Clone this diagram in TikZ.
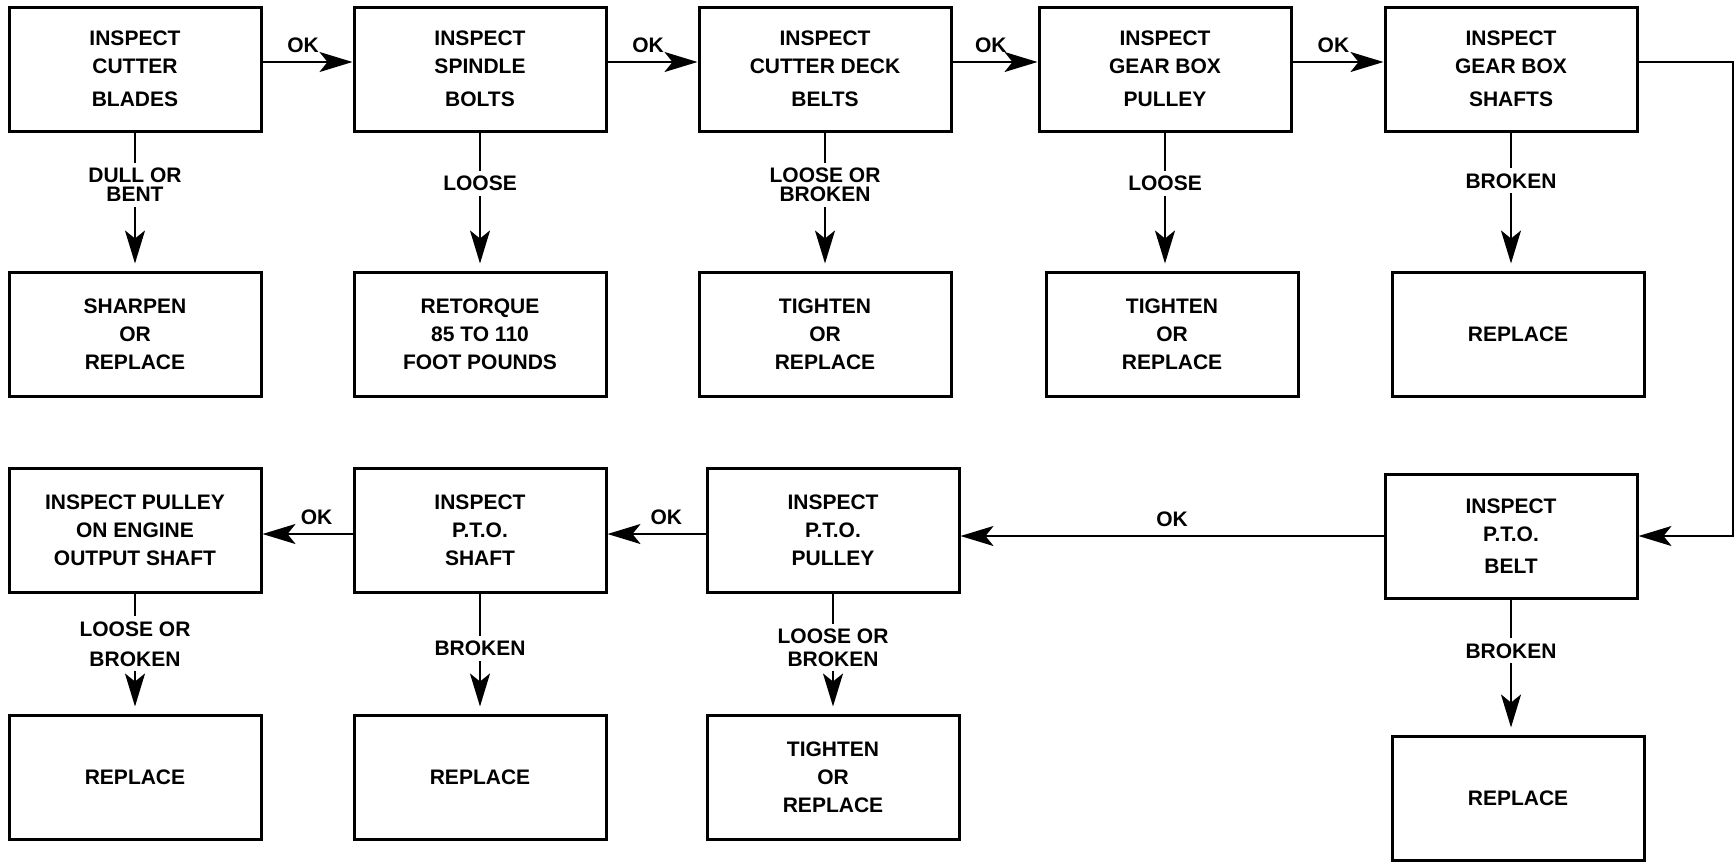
\documentclass[tikz,border=0pt]{standalone}
\usepackage{fontspec}
\setmainfont{Liberation Sans}
\usetikzlibrary{arrows.meta}

\begin{document}
\begin{tikzpicture}[x=1pt,y=-1pt,
	box/.style={rectangle, draw, line width=3pt, minimum width=252pt, minimum height=124pt, align=center, font=\bfseries\fontsize{21}{28}\selectfont},
	flow/.style={line width=2pt, -{Stealth[length=33pt,width=20pt,inset=8pt]}},
	fault/.style={flow, shorten >=7pt},
	lbl/.style={fill=white, align=center, inner sep=5pt, font=\bfseries\fontsize{21}{22}\selectfont},
	ok/.style={above, inner sep=8pt, font=\bfseries\fontsize{21}{22}\selectfont}]
	\useasboundingbox (0,0) rectangle (1735,862);
	\node (cut) at ( 135,  69)	[box]	{INSPECT\\CUTTER\\[5pt]BLADES};
	\node (spi) at ( 480,  69)	[box]	{INSPECT\\SPINDLE\\[5pt]BOLTS};
	\node (dec) at ( 825,  69)	[box]	{INSPECT\\CUTTER DECK\\[5pt]BELTS};
	\node (pul) at (1165,  69)	[box]	{INSPECT\\GEAR BOX\\[5pt]PULLEY};
	\node (sha) at (1511,  69)	[box]	{INSPECT\\GEAR BOX\\[5pt]SHAFTS};
	\node (cutfix) at ( 135, 334)	[box]	{SHARPEN\\OR\\REPLACE};
	\node (spifix) at ( 480, 334)	[box]	{RETORQUE\\85 TO 110\\FOOT POUNDS};
	\node (decfix) at ( 825, 334)	[box]	{TIGHTEN\\OR\\REPLACE};
	\node (pulfix) at (1172, 334)	[box]	{TIGHTEN\\OR\\REPLACE};
	\node (shafix) at (1518, 334)	[box]	{REPLACE};
	\node (eng) at ( 135, 530)	[box]	{INSPECT PULLEY\\ON ENGINE\\OUTPUT SHAFT};
	\node (pto) at ( 480, 530)	[box]	{INSPECT\\P.T.O.\\SHAFT};
	\node (ptp) at ( 833, 530)	[box]	{INSPECT\\P.T.O.\\PULLEY};
	\node (belt) at (1511, 536)	[box]	{INSPECT\\P.T.O.\\[4pt]BELT};
	\node (engfix) at ( 135, 777)	[box]	{REPLACE};
	\node (ptofix) at ( 480, 777)	[box]	{REPLACE};
	\node (ptpfix) at ( 833, 777)	[box]	{TIGHTEN\\OR\\REPLACE};
	\node (beltfix) at (1518, 798)	[box]	{REPLACE};
	\coordinate (edge) at (1733, 0);
	% OK chain, top row
	\draw[flow] ([yshift=7pt]cut.east) -- node[ok, pos=0.45] {OK} ([yshift=7pt]spi.west);
	\draw[flow] ([yshift=7pt]spi.east) -- node[ok, pos=0.45] {OK} ([yshift=7pt]dec.west);
	\draw[flow] ([yshift=7pt]dec.east) -- node[ok, pos=0.45] {OK} ([yshift=7pt]pul.west);
	\draw[flow] ([yshift=7pt]pul.east) -- node[ok, pos=0.45] {OK} ([yshift=7pt]sha.west);
	\draw[flow] ([yshift=7pt]sha.east) -- ([yshift=7pt]sha.east -| edge) |- (belt.east);
	% OK chain, bottom row
	\draw[flow] (belt.west) -- node[ok] {OK} (belt.west -| ptp.east);
	\draw[flow] ([yshift=-4pt]ptp.west) -- node[ok, pos=0.4] {OK} ([yshift=-4pt]pto.east);
	\draw[flow] ([yshift=-4pt]pto.west) -- node[ok, pos=0.4] {OK} ([yshift=-4pt]eng.east);
	% faults
	\draw[fault] (cut.south) -- node[lbl, pos=0.38] {DULL OR\\[-3pt]BENT} (cut.south |- cutfix.north);
	\draw[fault] (spi.south) -- node[lbl, pos=0.37] {LOOSE} (spi.south |- spifix.north);
	\draw[fault] (dec.south) -- node[lbl, pos=0.38] {LOOSE OR\\[-3pt]BROKEN} (dec.south |- decfix.north);
	\draw[fault] (pul.south) -- node[lbl, pos=0.37] {LOOSE} (pul.south |- pulfix.north);
	\draw[fault] (sha.south) -- node[lbl, pos=0.35] {BROKEN} (sha.south |- shafix.north);
	\draw[fault] (eng.south) -- node[lbl, pos=0.42] {LOOSE OR\\[8pt]BROKEN} (eng.south |- engfix.north);
	\draw[fault] (pto.south) -- node[lbl, pos=0.46] {BROKEN} (pto.south |- ptofix.north);
	\draw[fault] (ptp.south) -- node[lbl, pos=0.45] {LOOSE OR\\[1pt]BROKEN} (ptp.south |- ptpfix.north);
	\draw[fault] (belt.south) -- node[lbl, pos=0.38] {BROKEN} (belt.south |- beltfix.north);
\end{tikzpicture}
\end{document}
